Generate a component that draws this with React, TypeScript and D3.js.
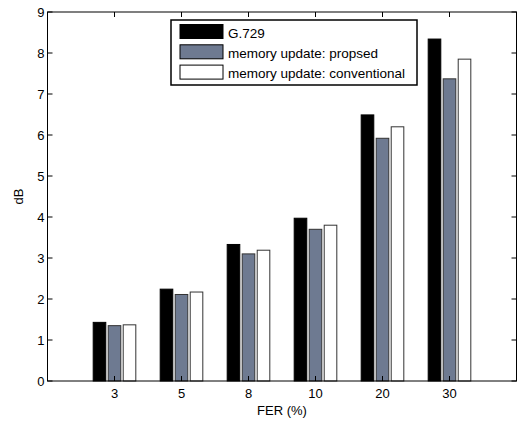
import React from "react";
import * as d3 from "d3";

const categories = ["3", "5", "8", "10", "20", "30"];
const seriesNames = ["G.729", "memory update: propsed", "memory update: conventional"];
const g729 = [1.43, 2.24, 3.33, 3.97, 6.49, 8.34];
const proposed = [1.35, 2.11, 3.1, 3.7, 5.92, 7.37];
const conventional = [1.37, 2.17, 3.19, 3.8, 6.2, 7.85];
const yTicks = [0, 1, 2, 3, 4, 5, 6, 7, 8, 9];
const colors = ["#000000", "#6e7a91", "#ffffff"];

const W = 518;
const H = 421;
const m = { top: 12, right: 1.5, bottom: 40, left: 47.5 };

export default function App() {
  const series = [g729, proposed, conventional];
  const x = d3.scaleLinear().domain([0, 7]).range([m.left, W - m.right]);
  const y = d3.scaleLinear().domain([0, 9]).range([H - m.bottom, m.top]);
  const off = 0.224;
  const bw = 0.188;
  const font = "'Liberation Sans', Arial, Helvetica, sans-serif";
  const fs = 13;

  return (
    <svg
      width={W}
      height={H}
      style={{ position: "absolute", left: 0, top: 0, background: "#fff" }}
      fontFamily={font}
    >
      {/* bars */}
      {series.map((vals, s) =>
        vals.map((v, i) => {
          const cx = x(i + 1) + (s - 1) * (x(off) - x(0));
          const w = x(bw) - x(0);
          return (
            <rect
              key={`${s}-${i}`}
              x={cx - w / 2}
              y={y(v)}
              width={w}
              height={y(0) - y(v)}
              fill={colors[s]}
              stroke={s === 0 ? "#000" : "#333"}
              strokeWidth={1}
            />
          );
        })
      )}

      {/* axes box */}
      <rect
        x={x(0)}
        y={y(9)}
        width={x(7) - x(0)}
        height={y(0) - y(9)}
        fill="none"
        stroke="#000"
        strokeWidth={1}
      />

      {/* y ticks */}
      {yTicks.map((t) => (
        <g key={t}>
          <line x1={x(0)} x2={x(0) + 5} y1={y(t)} y2={y(t)} stroke="#000" />
          <line x1={x(7)} x2={x(7) - 5} y1={y(t)} y2={y(t)} stroke="#000" />
          <text x={x(0) - 3} y={y(t) + 4.5} fontSize={fs} textAnchor="end">
            {t}
          </text>
        </g>
      ))}

      {/* x ticks */}
      {categories.map((c, i) => (
        <g key={c}>
          <line x1={x(i + 1)} x2={x(i + 1)} y1={y(0)} y2={y(0) - 5} stroke="#000" />
          <line x1={x(i + 1)} x2={x(i + 1)} y1={y(9)} y2={y(9) + 5} stroke="#000" />
          <text x={x(i + 1)} y={y(0) + 16.5} fontSize={fs} textAnchor="middle">
            {c}
          </text>
        </g>
      ))}

      {/* axis labels */}
      <text x={(x(0) + x(7)) / 2} y={415} fontSize={fs} textAnchor="middle">
        FER (%)
      </text>
      <text
        transform={`translate(23, ${(y(0) + y(9)) / 2}) rotate(-90)`}
        fontSize={fs}
        textAnchor="middle"
      >
        dB
      </text>

      {/* legend */}
      <g>
        <rect x={171} y={20} width={246} height={65} fill="#fff" stroke="#000" strokeWidth={1.5} />
        {seriesNames.map((n, k) => (
          <g key={n}>
            <rect
              x={180}
              y={24.5 + k * 20.3}
              width={43}
              height={14}
              fill={colors[k]}
              stroke="#000"
              strokeWidth={1}
            />
            <text x={228} y={38.3 + k * 20} fontSize={13.5}>
              {n}
            </text>
          </g>
        ))}
      </g>
    </svg>
  );
}
